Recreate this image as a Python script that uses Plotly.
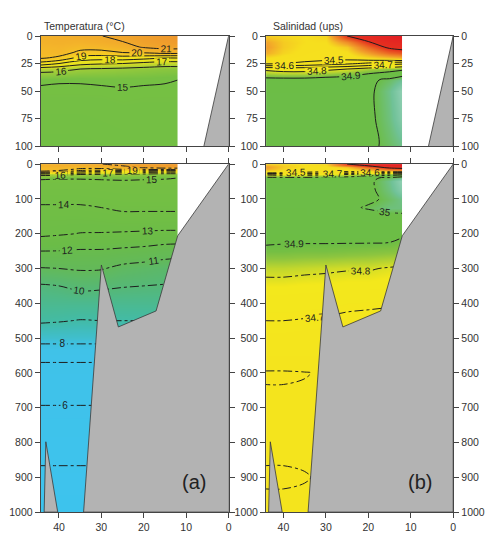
import plotly.graph_objects as go

# ---------------- data ----------------
stations = [44.3, 40, 35, 30, 25, 20, 15, 12]          # distance (x)
depths = [0, 5, 10, 15, 20, 25, 30, 40, 50, 75, 100, 125, 150, 200, 250,
          300, 350, 400, 450, 500, 550, 600, 700, 800, 900, 1000]

# temperature (°C): one row per depth, one column per station
temperature = [
    [20.7, 20.8, 20.9, 20.98, 21.3, 21.6, 21.8, 21.9],
    [20.6, 20.7, 20.6, 20.8, 21.0, 21.4, 21.6, 21.7],
    [20.4, 20.5, 20.3, 20.4, 20.6, 21.1, 21.3, 21.3],
    [20.3, 20.4, 19.8, 19.7, 20.0, 20.1, 20.4, 20.4],
    [20.1, 19.8, 18.6, 18.4, 18.5, 18.3, 18.0, 18.0],
    [18.6, 18.0, 17.3, 17.1, 17.0, 16.7, 16.5, 16.5],
    [16.4, 16.3, 16.0, 15.9, 15.8, 15.7, 15.6, 15.6],
    [15.1, 15.05, 15.05, 15.1, 15.1, 15.1, 15.05, 15.0],
    [14.9, 14.9, 14.9, 14.9, 14.95, 14.9, 14.9, 14.9],
    [14.5, 14.5, 14.5, 14.6, 14.7, 14.7, 14.7, 14.7],
    [14.2, 14.2, 14.2, 14.3, 14.4, 14.4, 14.4, 14.4],
    [13.9, 13.9, 13.9, 14.0, 14.12, 14.12, 14.12, 14.12],
    [13.6, 13.6, 13.6, 13.7, 13.85, 13.85, 13.85, 13.85],
    [13.2, 13.1, 12.97, 12.95, 12.9, 12.85, 12.8, 12.8],
    [12.0, 11.98, 11.9, 11.9, 11.8, 11.7, 11.5, 11.45],
    [10.95, 11.0, 11.1, 11.07, 10.75, 10.6, 10.45, 10.4],
    [9.9, 10.0, 10.2, 10.15, 10.05, 10.0, 9.95, 9.9],
    [9.5, 9.5, 9.5, 9.5, 9.5, 9.5, 9.5, 9.5],
    [9.1, 9.05, 8.97, 9.0, 9.0, 9.0, 9.0, 9.0],
    [8.4, 8.4, 8.4, 8.4, 8.4, 8.4, 8.4, 8.4],
    [7.2, 7.2, 7.2, 7.2, 7.2, 7.2, 7.2, 7.2],
    [6.7, 6.7, 6.7, 6.7, 6.7, 6.7, 6.7, 6.7],
    [5.95, 5.95, 5.95, 5.95, 5.95, 5.95, 5.95, 5.95],
    [5.4, 5.4, 5.4, 5.4, 5.4, 5.4, 5.4, 5.4],
    [4.8, 4.8, 4.8, 4.8, 4.8, 4.8, 4.8, 4.8],
    [4.4, 4.4, 4.4, 4.4, 4.4, 4.4, 4.4, 4.4],
]

# salinity (ups)
salinity = [
    [34.38, 34.40, 34.42, 34.40, 34.0, 33.8, 33.6, 33.5],
    [34.30, 34.38, 34.42, 34.42, 34.25, 34.0, 33.8, 33.75],
    [34.28, 34.38, 34.43, 34.44, 34.38, 34.15, 33.95, 33.9],
    [34.32, 34.40, 34.44, 34.45, 34.43, 34.30, 34.15, 34.1],
    [34.42, 34.44, 34.46, 34.46, 34.46, 34.42, 34.38, 34.35],
    [34.48, 34.50, 34.52, 34.55, 34.58, 34.62, 34.66, 34.68],
    [34.78, 34.76, 34.76, 34.78, 34.80, 34.84, 34.86, 34.88],
    [34.93, 34.93, 34.93, 34.94, 34.95, 34.98, 35.02, 35.06],
    [34.95, 34.95, 34.95, 34.96, 34.97, 34.98, 35.05, 35.12],
    [34.96, 34.96, 34.96, 34.96, 34.97, 34.98, 35.04, 35.10],
    [34.96, 34.96, 34.96, 34.96, 34.97, 34.98, 35.02, 35.05],
    [34.95, 34.95, 34.95, 34.96, 34.98, 35.01, 35.04, 35.04],
    [34.95, 34.95, 34.95, 34.95, 34.95, 34.96, 34.97, 34.98],
    [34.92, 34.915, 34.92, 34.92, 34.925, 34.93, 34.93, 34.91],
    [34.89, 34.89, 34.885, 34.885, 34.88, 34.875, 34.87, 34.865],
    [34.82, 34.82, 34.815, 34.81, 34.805, 34.805, 34.795, 34.79],
    [34.78, 34.78, 34.775, 34.775, 34.77, 34.77, 34.765, 34.76],
    [34.74, 34.74, 34.735, 34.73, 34.72, 34.715, 34.71, 34.71],
    [34.70, 34.70, 34.695, 34.69, 34.68, 34.675, 34.67, 34.67],
    [34.67, 34.67, 34.665, 34.66, 34.65, 34.65, 34.65, 34.65],
    [34.64, 34.64, 34.64, 34.64, 34.63, 34.63, 34.63, 34.63],
    [34.595, 34.595, 34.598, 34.605, 34.61, 34.61, 34.61, 34.61],
    [34.61, 34.61, 34.61, 34.61, 34.61, 34.61, 34.61, 34.61],
    [34.61, 34.61, 34.61, 34.61, 34.61, 34.61, 34.61, 34.61],
    [34.595, 34.595, 34.598, 34.605, 34.61, 34.61, 34.61, 34.61],
    [34.61, 34.61, 34.61, 34.61, 34.61, 34.61, 34.61, 34.61],
]

# bathymetry (sea floor) outline
bathy_x = [0, 12, 17.1, 26, 30, 34.2, 0, 0]
bathy_y = [0, 206, 422, 468, 290, 1000, 1000, 0]
spike_x = [40.3, 43.1, 43.5, 40.3]
spike_y = [1000, 798, 1000, 1000]

x_ticks = [0, 10, 20, 30, 40]
y_ticks_top = [0, 25, 50, 75, 100]
y_ticks_bottom = [0, 100, 200, 300, 400, 500, 600, 700, 800, 900, 1000]

# ---------------- styling ----------------
FONT = "Liberation Sans, Arial, sans-serif"
TXT = "#333333"
LINE = "#1e1e1e"
GRAY = "#b3b3b3"

temp_scale = [
    [0.0, "#3dc3ee"], [0.2, "#40c2e8"], [0.233, "#3fc0dc"], [0.278, "#42bba8"],
    [0.333, "#55b878"], [0.389, "#63b95a"], [0.472, "#6bbc47"], [0.622, "#76c043"],
    [0.678, "#a8cf38"], [0.733, "#e2df22"], [0.806, "#f4e61c"], [0.861, "#f5cf22"],
    [0.917, "#f4b52a"], [1.0, "#ee962c"],
]
sal_scale = [
    [0.0, "#e31e24"], [0.294, "#e6321f"], [0.382, "#ec6a25"], [0.471, "#f2a22b"],
    [0.541, "#f6df1e"], [0.753, "#f3e81c"], [0.8, "#8ec63f"], [0.824, "#6cbd45"],
    [0.882, "#6cbd48"], [0.918, "#70c298"], [1.0, "#c0e4dc"],
]

fig = go.Figure()

for xa, ya in [("x", "y"), ("x3", "y3")]:
    fig.add_trace(go.Contour(
        x=stations, y=depths, z=temperature, xaxis=xa, yaxis=ya,
        colorscale=temp_scale, zmin=4, zmax=22, zauto=False, showscale=False,
        contours=dict(coloring="heatmap", start=5, end=21, size=1, showlabels=True,
                      labelfont=dict(size=10, color=LINE, family=FONT)),
        line=dict(color=LINE, width=1, dash="solid" if xa == "x" else "dashdot", smoothing=1),
        hoverinfo="skip"))

for xa, ya in [("x2", "y2"), ("x4", "y4")]:
    fig.add_trace(go.Contour(
        x=stations, y=depths, z=salinity, xaxis=xa, yaxis=ya,
        colorscale=sal_scale, zmin=33.5, zmax=35.2, zauto=False, showscale=False,
        contours=dict(coloring="heatmap", start=34.5, end=35.0, size=0.1, showlabels=True,
                      labelfont=dict(size=10, color=LINE, family=FONT)),
        line=dict(color=LINE, width=1, dash="solid" if xa == "x2" else "dashdot", smoothing=1),
        hoverinfo="skip"))
    fig.add_trace(go.Contour(
        x=stations, y=depths, z=salinity, xaxis=xa, yaxis=ya, showscale=False,
        contours=dict(coloring="none", start=34.0, end=34.05, size=0.5, showlabels=True,
                      labelfont=dict(size=10, color=LINE, family=FONT)),
        line=dict(color=LINE, width=1), hoverinfo="skip"))

for xa, ya in [("x", "y"), ("x2", "y2"), ("x3", "y3"), ("x4", "y4")]:
    for bx, by in [(bathy_x, bathy_y), (spike_x, spike_y)]:
        fig.add_trace(go.Scatter(
            x=bx, y=by, xaxis=xa, yaxis=ya, mode="lines", fill="toself",
            fillcolor=GRAY, line=dict(color="#3a3a3a", width=0.8),
            showlegend=False, hoverinfo="skip"))

# dummy traces for the right-hand y axes of the salinity panels
fig.add_trace(go.Scatter(x=[None], y=[None], xaxis="x2", yaxis="y5", showlegend=False))
fig.add_trace(go.Scatter(x=[None], y=[None], xaxis="x4", yaxis="y6", showlegend=False))

W, H = 489, 535
LX = [41 / W, 230 / W]
RX = [267.7 / W, 456 / W]
TY = [1 - 143.3 / H, 1 - 30.7 / H]
BY = [1 - 517.7 / H, 1 - 161.7 / H]

ax_common = dict(showgrid=False, zeroline=False, showline=True, linecolor="#444444",
                 linewidth=1, ticks="outside", ticklen=5, tickwidth=1, tickcolor="#444444",
                 tickfont=dict(family=FONT, size=10.5, color=TXT))

fig.update_layout(
    width=W, height=H, margin=dict(l=0, r=0, t=0, b=0),
    paper_bgcolor="white", plot_bgcolor="white", showlegend=False,
    xaxis=dict(domain=LX, anchor="y", range=[44.3, 0], tickvals=x_ticks,
               showticklabels=False, mirror=True, **ax_common),
    yaxis=dict(domain=TY, anchor="x", range=[100, 0], tickvals=y_ticks_top,
               mirror="ticks", **ax_common),
    xaxis2=dict(domain=RX, anchor="y2", range=[44.1, 0], tickvals=x_ticks,
                showticklabels=False, mirror=True, **ax_common),
    yaxis2=dict(domain=TY, anchor="x2", range=[100, 0], tickvals=y_ticks_top,
                mirror=True, **ax_common),
    xaxis3=dict(domain=LX, anchor="y3", range=[44.3, 0], tickvals=x_ticks,
                mirror="ticks", **ax_common),
    yaxis3=dict(domain=BY, anchor="x3", range=[1000, 0], tickvals=y_ticks_bottom,
                mirror="ticks", **ax_common),
    xaxis4=dict(domain=RX, anchor="y4", range=[44.1, 0], tickvals=x_ticks,
                mirror="ticks", **ax_common),
    yaxis4=dict(domain=BY, anchor="x4", range=[1000, 0], tickvals=y_ticks_bottom,
                mirror=True, **ax_common),
    yaxis5=dict(overlaying="y2", anchor="x2", side="right", range=[100, 0],
                tickvals=y_ticks_top, **ax_common),
    yaxis6=dict(overlaying="y4", anchor="x4", side="right", range=[1000, 0],
                tickvals=y_ticks_bottom, **ax_common),
    annotations=[
        dict(text="Temperatura (°C)", x=42 / W, y=1 - 20 / H, xref="paper", yref="paper",
             xanchor="left", yanchor="middle", showarrow=False,
             font=dict(family=FONT, size=10.5, color=TXT)),
        dict(text="Salinidad (ups)", x=273 / W, y=1 - 20 / H, xref="paper", yref="paper",
             xanchor="left", yanchor="middle", showarrow=False,
             font=dict(family=FONT, size=10.5, color=TXT)),
        dict(text="(a)", x=195 / W, y=1 - 487 / H, xref="paper", yref="paper",
             xanchor="center", yanchor="middle", showarrow=False,
             font=dict(family=FONT, size=20, color="#222222")),
        dict(text="(b)", x=423 / W, y=1 - 487 / H, xref="paper", yref="paper",
             xanchor="center", yanchor="middle", showarrow=False,
             font=dict(family=FONT, size=20, color="#222222")),
    ],
)

fig.write_html("out.html")
